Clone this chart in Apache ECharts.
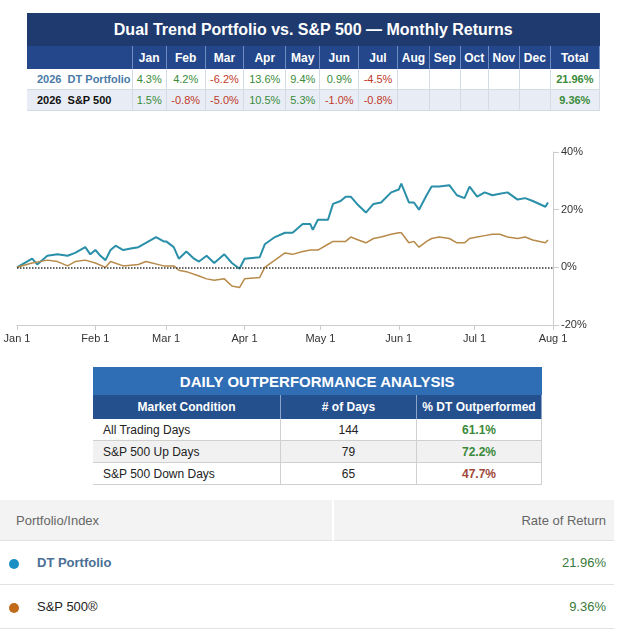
<!DOCTYPE html>
<html>
<head>
<meta charset="utf-8">
<script src="https://cdn.jsdelivr.net/npm/echarts@6/dist/echarts.min.js"></script>
<style>
  body { margin: 0; width: 624px; height: 631px; background: #fff; font-family: "Liberation Sans", Arial, sans-serif; position: relative; overflow: hidden; }
  table { border-collapse: collapse; position: absolute; }
  #monthly { left: 27px; top: 13px; width: 573px; font-size: 11px; }
  #monthly .title { background: #1f3a6e; color: #fff; font-size: 16px; font-weight: bold; height: 31px; text-align: center; }
  #monthly .hdr td { background: #23478a; color: #fff; font-weight: bold; height: 21px; text-align: center; border-right: 1px solid #6f8cc0; font-size: 12px; }
  #monthly .row td { height: 18px; text-align: center; border-right: 1px solid #d5dbe5; border-bottom: 1px solid #d5dbe5; }
  #monthly .r1 td { background: #fff; }
  #monthly .r2 td { background: #e8edf5; }
  #monthly td.lbl { text-align: left; padding-left: 10px; white-space: nowrap; font-weight: bold; }
  .pos { color: #3a8a3a; }
  .neg { color: #c0392b; }
  #chart { position: absolute; left: 0; top: 140px; width: 624px; height: 215px; }
  #daily { left: 93px; top: 367px; width: 449px; font-size: 12px; }
  #daily .title { background: #2f6db5; color: #fff; font-size: 15px; font-weight: bold; height: 26px; text-align: center; }
  #daily .hdr td { background: #25508e; color: #fff; font-weight: bold; height: 22px; text-align: center; border-right: 1px solid #8aa4cc; }
  #daily .row td { height: 21px; padding: 0; border-bottom: 1px solid #d0d0d0; border-right: 1px solid #d0d0d0; text-align: center; color: #222; }
  #daily .row:nth-child(even) td { background: #f1f1f1; }
  #daily td.lbl { text-align: left; padding-left: 10px; }
  #ror { left: 0; top: 500px; width: 614px; font-size: 13px; color: #333; }
  #ror .hdr td { background: #f3f3f3; height: 38px; color: #666; border-bottom: 1px solid #e2e2e2; }
  #ror .row td { height: 41px; border-bottom: 1px solid #e2e2e2; }
  .dot { display: inline-block; width: 10px; height: 10px; border-radius: 50%; vertical-align: middle; margin: 0 18px 0 8px; }
</style>
</head>
<body>
<table id="monthly"></table>
<div id="chart"></div>
<table id="daily"></table>
<table id="ror"></table>
<script>
// monthly returns
const months = ['Jan', 'Feb', 'Mar', 'Apr', 'May', 'Jun', 'Jul', 'Aug', 'Sep', 'Oct', 'Nov', 'Dec'];
const dtMonthly = [4.3, 4.2, -6.2, 13.6, 9.4, 0.9, -4.5];
const spMonthly = [1.5, -0.8, -5.0, 10.5, 5.3, -1.0, -0.8];
const dtTotal = '21.96%';
const spTotal = '9.36%';

// cumulative return curves (day offset from Jan 1, percent)
const dtDays = [0, 6, 8, 12, 16, 20, 23, 27, 29, 31, 33, 35, 37, 39, 42, 45, 48, 51, 55, 58, 59, 62, 64, 67, 70, 72, 75, 78, 82, 85, 88, 90, 96, 98, 102, 106, 109, 113, 116, 117, 119, 123, 125, 128, 130, 132, 135, 138, 141, 144, 148, 151, 152, 155, 157, 159, 162, 164, 167, 171, 174, 177, 179, 182, 185, 188, 191, 194, 198, 201, 204, 209, 210];
const dtVals = [0, 3, 1, 4, 4.5, 4, 5, 7, 4.5, 6, 4, 2.5, 6, 7.5, 6, 6.5, 7, 8.5, 10.5, 9, 9, 7, 3, 5.5, 3, 2, 4, 1.5, 4.5, 1.5, -0.5, 3, 3.5, 8, 10.5, 12, 12, 15, 15, 13, 16.5, 16.5, 22, 23, 24.5, 24.5, 21.5, 19, 22, 22.5, 26, 27, 29, 22.5, 22.5, 20, 25, 28, 28, 28.5, 25, 24, 28, 24.5, 26, 25, 25.5, 26, 23.5, 24, 23, 21, 22.5];
const spDays = [0, 6, 12, 16, 20, 23, 27, 31, 35, 37, 42, 48, 51, 58, 62, 64, 67, 72, 75, 78, 82, 85, 88, 90, 96, 98, 102, 106, 109, 113, 116, 119, 123, 125, 130, 132, 135, 138, 141, 144, 148, 151, 152, 155, 157, 159, 162, 164, 167, 171, 174, 177, 179, 182, 185, 188, 191, 194, 198, 201, 204, 209, 210];
const spVals = [0, 1.5, 2.5, 2, 0.5, 2, 2.5, 1.5, 0, 2, 0.5, 1, 2, 0.5, 0.5, -1, -1.5, -3, -4, -4.5, -4, -6.5, -7, -4, -3.5, 0, 2.5, 5, 4.5, 5.5, 6, 6, 8, 9, 9, 10.5, 9.5, 8.5, 10, 10.5, 11.5, 12, 12, 8.5, 9, 7, 9, 10, 10.5, 10, 8.5, 8.5, 10, 10.5, 11, 11.5, 11.5, 10.5, 10, 10.5, 9.5, 8.5, 9.5];
const yTicks = [-20, 0, 20, 40];

// daily outperformance
const conditions = ['All Trading Days', 'S&P 500 Up Days', 'S&P 500 Down Days'];
const dayCounts = [144, 79, 65];
const outperf = [61.1, 72.2, 47.7];

function cell(v) {
  if (v === undefined) return '<td></td>';
  return `<td class="${v < 0 ? 'neg' : 'pos'}">${v.toFixed(1)}%</td>`;
}

let m = '<tr><td class="title" colspan="14">Dual Trend Portfolio vs. S&amp;P 500 — Monthly Returns</td></tr>';
m += '<tr class="hdr"><td style="width:92px"></td>' + months.map(x => `<td>${x}</td>`).join('') + '<td>Total</td></tr>';
m += '<tr class="row r1"><td class="lbl" style="color:#4a7aa8">2026&nbsp; DT Portfolio</td>' + months.map((x, i) => cell(dtMonthly[i])).join('') + `<td class="pos" style="font-weight:bold">${dtTotal}</td></tr>`;
m += '<tr class="row r2"><td class="lbl" style="color:#111">2026&nbsp; S&amp;P 500</td>' + months.map((x, i) => cell(spMonthly[i])).join('') + `<td class="pos" style="font-weight:bold">${spTotal}</td></tr>`;
document.getElementById('monthly').innerHTML = m;

let d = '<tr><td class="title" colspan="3">DAILY OUTPERFORMANCE ANALYSIS</td></tr>';
d += '<tr class="hdr"><td style="width:185px">Market Condition</td><td style="width:133px"># of Days</td><td>% DT Outperformed</td></tr>';
conditions.forEach((c, i) => {
  d += `<tr class="row"><td class="lbl">${c}</td><td>${dayCounts[i]}</td><td style="font-weight:bold;color:${outperf[i] >= 50 ? '#3a8a3a' : '#a0473a'}">${outperf[i].toFixed(1)}%</td></tr>`;
});
document.getElementById('daily').innerHTML = d;

document.getElementById('ror').innerHTML =
  '<tr class="hdr"><td style="padding-left:16px">Portfolio/Index</td><td style="text-align:right;padding-right:8px;border-left:2px solid #fff">Rate of Return</td></tr>' +
  `<tr class="row"><td><span class="dot" style="background:#1a8fc4"></span><b style="color:#4a6f94">DT Portfolio</b></td><td style="text-align:right;padding-right:8px;color:#3a7a3a">${dtTotal}</td></tr>` +
  `<tr class="row"><td><span class="dot" style="background:#c06a1a"></span><span style="color:#222">S&amp;P 500®</span></td><td style="text-align:right;padding-right:8px;color:#3a7a3a">${spTotal}</td></tr>`;

const start = Date.UTC(2026, 0, 1);
const toT = day => start + day * 86400000;
const monthNames = ['Jan', 'Feb', 'Mar', 'Apr', 'May', 'Jun', 'Jul', 'Aug'];

const chart = echarts.init(document.getElementById('chart'));
chart.setOption({
  animation: false,
  grid: { left: 17, right: 71, top: 12, bottom: 30 },
  xAxis: {
    type: 'time',
    min: start,
    max: Date.UTC(2026, 7, 1),
    axisLine: { onZero: false, lineStyle: { color: '#ccc' } },
    axisTick: { show: true, lineStyle: { color: '#ccc' } },
    splitLine: { show: false },
    minInterval: 28 * 86400000,
    axisLabel: {
      color: '#333', fontSize: 11, margin: 8, showMaxLabel: true, showMinLabel: true,
      formatter: v => { const dt = new Date(v); return monthNames[dt.getUTCMonth()] + ' 1'; }
    }
  },
  yAxis: {
    type: 'value',
    position: 'right',
    min: yTicks[0], max: yTicks[yTicks.length - 1], interval: 20,
    axisLine: { show: true, lineStyle: { color: '#ccc' } },
    axisTick: { show: true, length: 6, lineStyle: { color: '#ccc' } },
    splitLine: { show: false },
    axisLabel: { color: '#333', fontSize: 11, margin: 8, formatter: '{value}%' }
  },
  series: [
    {
      name: 'DT Portfolio', type: 'line', showSymbol: false,
      data: dtDays.map((x, i) => [toT(x), dtVals[i]]),
      lineStyle: { color: '#2a8fa8', width: 2 }, itemStyle: { color: '#2a8fa8' },
      markLine: {
        silent: true, symbol: 'none', label: { show: false },
        lineStyle: { color: '#333', type: 'dotted', width: 1.5 },
        data: [{ yAxis: 0 }]
      }
    },
    {
      name: 'S&P 500', type: 'line', showSymbol: false,
      data: spDays.map((x, i) => [toT(x), spVals[i]]),
      lineStyle: { color: '#b88a4a', width: 1.5 }, itemStyle: { color: '#b88a4a' }
    }
  ]
});
</script>
</body>
</html>
